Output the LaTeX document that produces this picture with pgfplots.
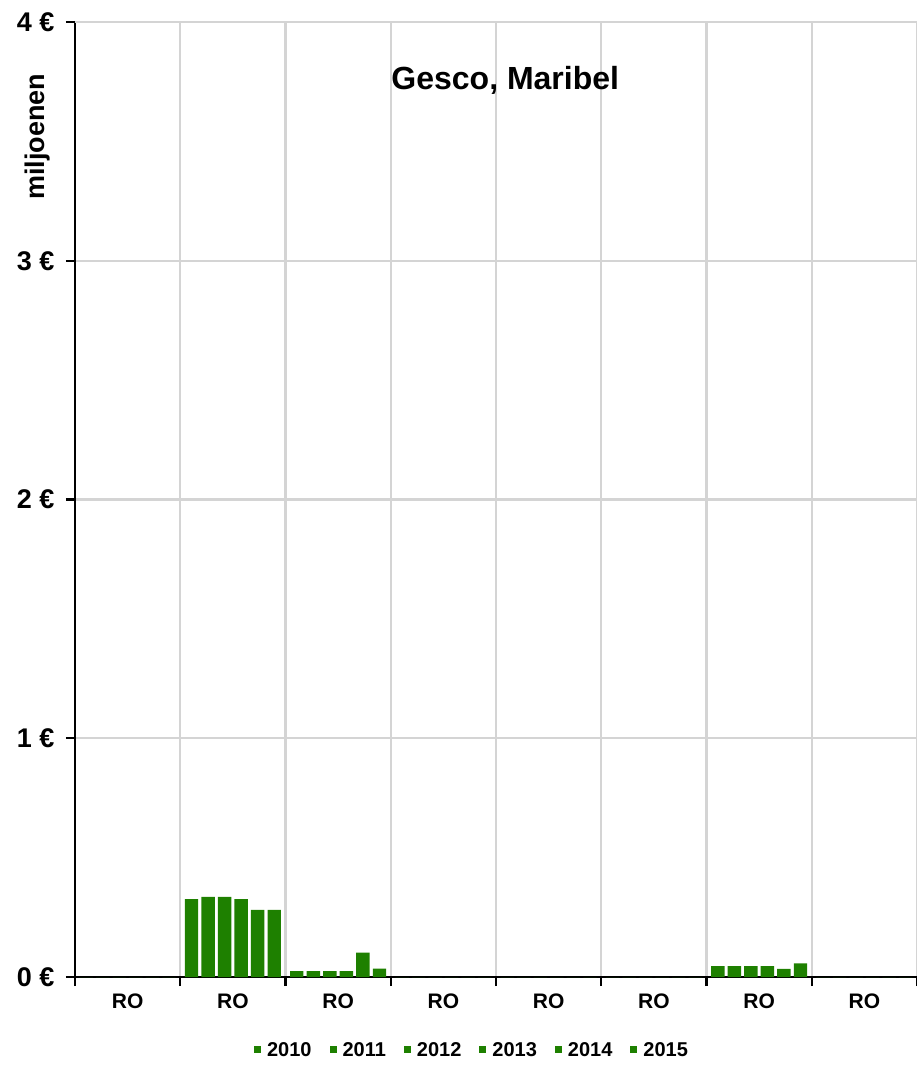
\documentclass[border=0pt]{standalone}
\usepackage{pgfplots}
\pgfplotsset{compat=1.18}
\usepackage{fontspec}
\setmainfont{Liberation Sans}
\definecolor{bargreen}{RGB}{30,128,0}
\definecolor{gridgray}{RGB}{212,212,212}
\definecolor{toplineblue}{RGB}{176,218,222}

% one table per year, categories at 0..7
\pgfplotstableread{
x y
0 0
1 0.326
2 0.025
3 0
4 0
5 0
6 0.046
7 0
}\yrA
\pgfplotstableread{
x y
0 0
1 0.336
2 0.025
3 0
4 0
5 0
6 0.046
7 0
}\yrB
\pgfplotstableread{
x y
0 0
1 0.336
2 0.025
3 0
4 0
5 0
6 0.046
7 0
}\yrC
\pgfplotstableread{
x y
0 0
1 0.326
2 0.025
3 0
4 0
5 0
6 0.046
7 0
}\yrD
\pgfplotstableread{
x y
0 0
1 0.281
2 0.102
3 0
4 0
5 0
6 0.034
7 0
}\yrE
\pgfplotstableread{
x y
0 0
1 0.281
2 0.035
3 0
4 0
5 0
6 0.057
7 0
}\yrF

\begin{document}
\begin{tikzpicture}
\useasboundingbox (0,0) rectangle (916pt,1070pt);
\begin{axis}[
    at={(75pt,93pt)}, anchor=south west,
    scale only axis,
    width=842pt, height=955pt,
    ybar, bar width=0.127,
    xmin=-0.5, xmax=7.5,
    ymin=0, ymax=4,
    axis x line*=bottom, axis y line*=left,
    axis line style={-, line width=2.4pt, black},
    xtick={0,...,7},
    xticklabels={RO,RO,RO,RO,RO,RO,RO,RO},
    major x tick style={draw=none},
    minor xtick={-0.5,0.5,...,7.5},
    minor x tick style={line width=2.2pt, black},
    minor tick length=9pt,
    x grid style={gridgray, line width=2.4pt},
    minor x grid style={gridgray, line width=2.4pt},
    xminorgrids,
    ytick={0,1,2,3},
    yticklabels={0 €,1 €,2 €,3 €},
    extra y ticks={4},
    extra y tick labels={4 €},
    extra y tick style={grid=major, major grid style={toplineblue, line width=3pt}},
    ymajorgrids,
    y grid style={gridgray, line width=2.4pt},
    major y tick style={line width=2.2pt, black},
    major tick length=9pt,
    tick align=outside,
    tick label style={font=\bfseries\fontsize{21}{24}\selectfont},
    yticklabel style={font=\bfseries\fontsize{27}{30}\selectfont, xshift=-8pt},
    xticklabel style={yshift=-4pt},
    ylabel={miljoenen},
    every axis y label/.style={at={(axis description cs:-0.045,0.88)}, rotate=90, anchor=center, font=\bfseries\fontsize{27}{30}\selectfont},
    title={Gesco, Maribel},
    every axis title/.style={at={(axis description cs:0.511,0.939)}, anchor=center, font=\bfseries\fontsize{32}{36}\selectfont},
    legend columns=-1,
    legend style={at={(axis description cs:0.4715,-0.0764)}, anchor=center, draw=none, fill=none,
        font=\bfseries\fontsize{20}{24}\selectfont,
        /tikz/every even column/.append style={column sep=16pt},
        /tikz/every odd column/.append style={column sep=4pt}},
    legend image code/.code={\fill[bargreen] (0pt,-3.5pt) rectangle (7pt,3.5pt);},
    clip=false,
]
\addplot[fill=bargreen, draw=none, bar shift=-0.3925] table {\yrA};
\addplot[fill=bargreen, draw=none, bar shift=-0.2355] table {\yrB};
\addplot[fill=bargreen, draw=none, bar shift=-0.0785] table {\yrC};
\addplot[fill=bargreen, draw=none, bar shift=0.0785] table {\yrD};
\addplot[fill=bargreen, draw=none, bar shift=0.2355] table {\yrE};
\addplot[fill=bargreen, draw=none, bar shift=0.3925] table {\yrF};
\legend{2010,2011,2012,2013,2014,2015}
\end{axis}
\end{tikzpicture}
\end{document}
